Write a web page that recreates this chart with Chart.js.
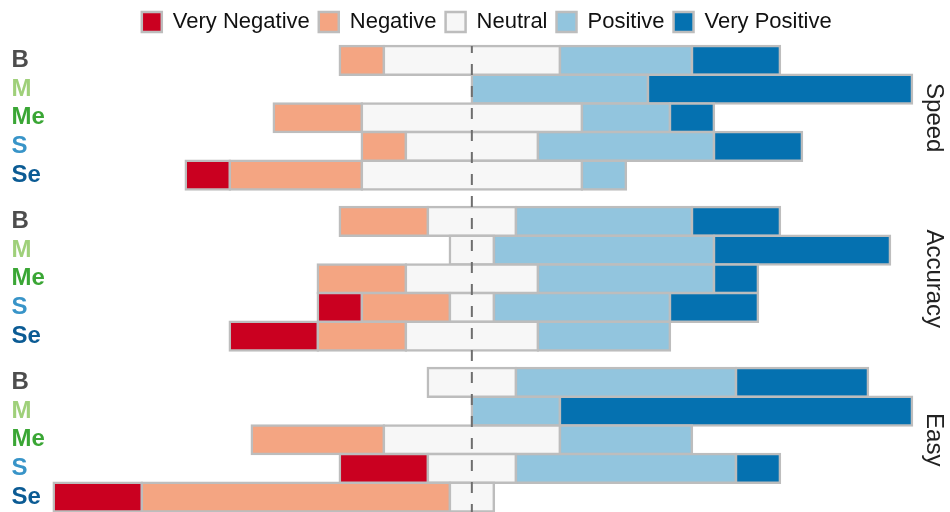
<!DOCTYPE html>
<html>
<head>
<meta charset="utf-8">
<script src="https://cdn.jsdelivr.net/npm/chart.js@4.4.1/dist/chart.umd.min.js"></script>
<style>
  body { margin: 0; background: #fff; }
  #wrap { position: relative; width: 950px; height: 512px; }
  .layer { position: absolute; left: 0; top: 0; width: 950px; height: 512px; }
</style>
</head>
<body>
<div id="wrap">
  <div class="layer"><canvas id="speedChart"></canvas></div>
  <div class="layer"><canvas id="accuracyChart"></canvas></div>
  <div class="layer"><canvas id="easyChart"></canvas></div>
</div>
<script>
var categories = ['B', 'M', 'Me', 'S', 'Se'];
var labelColors = ['#4d4d4d', '#9fd07a', '#3aa635', '#3894c8', '#0b5b94'];
var levels = ['Very Negative', 'Negative', 'Neutral', 'Positive', 'Very Positive'];
var levelColors = ['#ca0020', '#f4a582', '#f7f7f7', '#92c5de', '#0571b0'];

// counts per row (B, M, Me, S, Se)
var speedVeryNegative = [0, 0, 0, 0, 1];
var speedNegative     = [1, 0, 2, 1, 3];
var speedNeutral      = [4, 0, 5, 3, 5];
var speedPositive     = [3, 4, 2, 4, 1];
var speedVeryPositive = [2, 6, 1, 2, 0];

var accuracyVeryNegative = [0, 0, 0, 1, 2];
var accuracyNegative     = [2, 0, 2, 2, 2];
var accuracyNeutral      = [2, 1, 3, 1, 3];
var accuracyPositive     = [4, 5, 4, 4, 3];
var accuracyVeryPositive = [2, 4, 1, 2, 0];

var easyVeryNegative = [0, 0, 0, 2, 2];
var easyNegative     = [0, 0, 3, 0, 7];
var easyNeutral      = [2, 0, 4, 2, 1];
var easyPositive     = [5, 2, 3, 5, 0];
var easyVeryPositive = [3, 8, 0, 1, 0];

Chart.defaults.font.family = "'Liberation Sans', Arial, sans-serif";

// turn counts into floating [start, end] ranges, neutral centred on 0
function diverging(vn, n, neu, p, vp) {
    var out = [[], [], [], [], []];
    for (var i = 0; i < categories.length; i++) {
        var counts = [vn[i], n[i], neu[i], p[i], vp[i]];
        var x = -(vn[i] + n[i] + neu[i] / 2);
        for (var k = 0; k < 5; k++) {
            out[k].push(counts[k] > 0 ? [x, x + counts[k]] : null);
            x += counts[k];
        }
    }
    return out;
}

var legendTweak = {
    id: 'legendTweak',
    beforeLayout: function (chart) {
        var lg = chart.legend;
        if (lg && !lg._patched) {
            var fit = lg.fit;
            lg.fit = function () { fit.call(this); this.height = 44; };
            lg._patched = true;
        }
    },
    afterLayout: function (chart) {
        chart.legend.left += 6;
        chart.legend.right += 6;
    }
};

var centerLine = {
    id: 'centerLine',
    afterDraw: function (chart, args, opts) {
        var ctx = chart.ctx;
        var x = chart.scales.x.getPixelForValue(0);
        ctx.save();
        ctx.strokeStyle = '#6e6e6e';
        ctx.lineWidth = 2;
        ctx.setLineDash([11, 11]);
        ctx.lineDashOffset = 4;
        ctx.beginPath();
        ctx.moveTo(x, opts.top);
        ctx.lineTo(x, chart.height);
        ctx.stroke();
        ctx.restore();
    }
};

function makeChart(id, title, segs, pad, showLegend, extra) {
    var ctx = document.getElementById(id);
    return new Chart(ctx, {
        type: 'bar',
        data: {
            labels: categories,
            datasets: levels.map(function (name, k) {
                return {
                    label: name,
                    data: segs[k],
                    backgroundColor: levelColors[k],
                    borderColor: '#bdbdbd',
                    borderWidth: 2.5,
                    inflateAmount: 1.25,
                    borderSkipped: false,
                    grouped: false,
                    clip: false,
                    barPercentage: 1,
                    categoryPercentage: 1
                };
            })
        },
        options: {
            indexAxis: 'y',
            responsive: true,
            maintainAspectRatio: false,
            animation: false,
            layout: { padding: pad },
            plugins: {
                legend: {
                    display: showLegend,
                    labels: {
                        font: { size: 22 },
                        color: '#111',
                        boxWidth: 20,
                        boxHeight: 20,
                        padding: 9
                    }
                },
                tooltip: { enabled: false },
                centerLine: extra.lineOpts || {}
            },
            scales: {
                x: { display: false, min: -9.55, max: 10 },
                y: {
                    grid: { display: false },
                    border: { display: false },
                    ticks: {
                        autoSkip: false,
                        crossAlign: 'far',
                        font: { size: 24, weight: 'bold' },
                        color: function (c) { return labelColors[c.index]; }
                    },
                    afterFit: function (s) { s.width = 40; s.paddingTop = 0; s.paddingBottom = 0; }
                },
                y2: {
                    type: 'category',
                    position: 'right',
                    grid: { display: false },
                    border: { display: false },
                    ticks: { display: false },
                    title: {
                        display: true,
                        text: title,
                        color: '#222',
                        font: { size: 24 },
                        padding: { top: 2, bottom: 0 }
                    },
                    afterFit: function (s) { s.width = 38; s.paddingTop = 0; s.paddingBottom = 0; }
                }
            }
        },
        plugins: extra.plugins || []
    });
}

window.onload = function () {
    var speed = makeChart('speedChart', 'Speed',
        diverging(speedVeryNegative, speedNegative, speedNeutral, speedPositive, speedVeryPositive),
        { top: 2, left: 11.5, right: 0, bottom: 322.5 }, true, { plugins: [legendTweak] });

    makeChart('accuracyChart', 'Accuracy',
        diverging(accuracyVeryNegative, accuracyNegative, accuracyNeutral, accuracyPositive, accuracyVeryPositive),
        { top: 207, left: 11.5, right: 0, bottom: 161.5 }, false, {});

    makeChart('easyChart', 'Easy',
        diverging(easyVeryNegative, easyNegative, easyNeutral, easyPositive, easyVeryPositive),
        { top: 368, left: 11.5, right: 0, bottom: 0.5 }, false,
        { plugins: [centerLine], lineOpts: { top: speed.chartArea.top } });
};
</script>
</body>
</html>
